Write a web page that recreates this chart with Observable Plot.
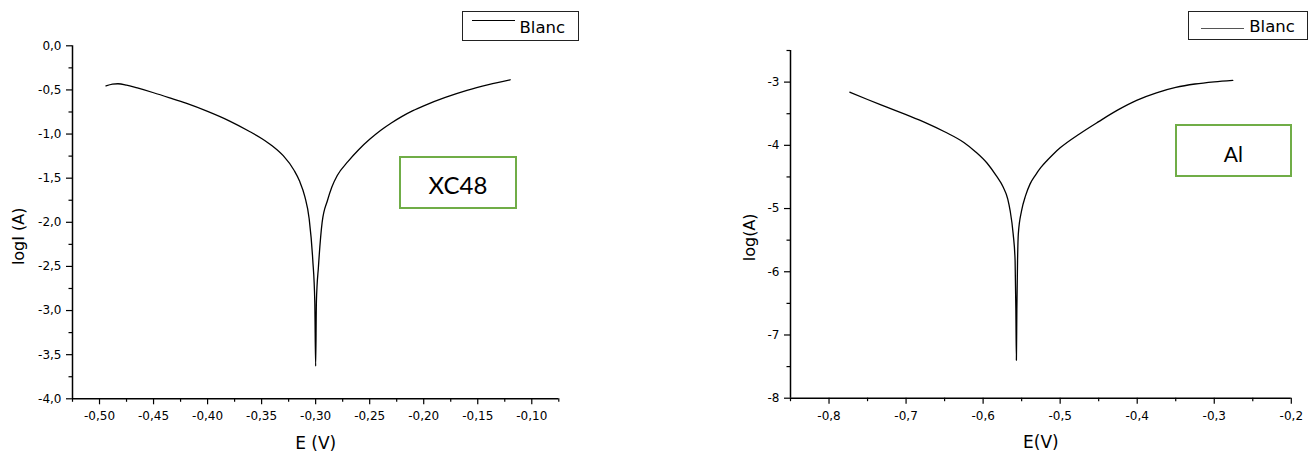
<!DOCTYPE html>
<html>
<head>
<meta charset="utf-8">
<script src="https://cdn.jsdelivr.net/npm/d3@7"></script>
<script src="https://cdn.jsdelivr.net/npm/@observablehq/plot@0.6"></script>
<style>
  html, body { margin: 0; padding: 0; background: #fff; }
  #root { position: relative; width: 1315px; height: 455px; overflow: hidden; background: #fff; }
  #root svg { position: absolute; top: 0; }
  .box { position: absolute; box-sizing: border-box; }
  .legend { border: 1px solid #222; background: #fff; }
  .lline { position: absolute; height: 0; }
  .ltext { position: absolute; font-family: "DejaVu Sans", sans-serif; font-size: 16.5px; line-height: 16.5px; color: #000; white-space: nowrap; }
  .tag { border: 2.5px solid #70AD47; background: #fff; }
  .tagtext { position: absolute; font-family: Lato, "Open Sans", sans-serif; color: #000; text-align: center; white-space: nowrap; }
</style>
</head>
<body>
<div id="root"></div>
<script>
// ---------- Data: XC48 (left panel) ----------
const xc48E = [-0.494, -0.488, -0.483, -0.475, -0.465, -0.45, -0.435, -0.42, -0.40, -0.38,
  -0.362, -0.35, -0.34, -0.33, -0.32, -0.315, -0.31, -0.306, -0.3027, -0.3008,
  -0.3000, -0.2993, -0.2974, -0.294, -0.289, -0.285, -0.28, -0.27, -0.26, -0.25,
  -0.24, -0.23, -0.22, -0.21, -0.20, -0.18, -0.16, -0.14, -0.12];
const xc48LogI = [-0.455, -0.435, -0.43, -0.445, -0.478, -0.532, -0.59, -0.65, -0.743, -0.85,
  -0.965, -1.05, -1.135, -1.245, -1.41, -1.53, -1.71, -1.96, -2.42, -2.9,
  -3.63, -2.9, -2.5, -2.0, -1.75, -1.6, -1.47, -1.31, -1.175, -1.06,
  -0.96, -0.875, -0.80, -0.735, -0.68, -0.585, -0.505, -0.44, -0.385];

// ---------- Data: Al (right panel) ----------
const alE = [-0.773, -0.75, -0.725, -0.7, -0.675, -0.65, -0.625, -0.61, -0.595, -0.583,
  -0.574, -0.568, -0.565, -0.561, -0.5585, -0.5575, -0.5568, -0.5562, -0.5553, -0.5543,
  -0.55, -0.545, -0.539, -0.532, -0.525, -0.517, -0.509, -0.5, -0.475, -0.45,
  -0.425, -0.4, -0.375, -0.35, -0.325, -0.3, -0.276];
const alLogA = [-3.16, -3.275, -3.395, -3.515, -3.64, -3.785, -3.955, -4.1, -4.28, -4.48,
  -4.66, -4.85, -5.03, -5.4, -5.82, -6.6, -7.4, -6.6, -5.82, -5.4,
  -5.03, -4.8, -4.61, -4.47, -4.35, -4.24, -4.14, -4.04, -3.82, -3.625,
  -3.44, -3.285, -3.17, -3.085, -3.03, -2.995, -2.972];

// ---------- Axes / ticks ----------
const xDomainL = [-0.525, -0.075];
const yDomainL = [-4, 0];
const xMajorL = [-0.50, -0.45, -0.40, -0.35, -0.30, -0.25, -0.20, -0.15, -0.10];
const xMinorL = [-0.525, -0.475, -0.425, -0.375, -0.325, -0.275, -0.225, -0.175, -0.125, -0.075];
const yMajorL = [-4.0, -3.5, -3.0, -2.5, -2.0, -1.5, -1.0, -0.5, 0.0];
const yMinorL = [-3.75, -3.25, -2.75, -2.25, -1.75, -1.25, -0.75, -0.25];

const xDomainR = [-0.85, -0.2];
const yDomainR = [-8, -2.5];
const xMajorR = [-0.8, -0.7, -0.6, -0.5, -0.4, -0.3, -0.2];
const xMinorR = [-0.85, -0.75, -0.65, -0.55, -0.45, -0.35, -0.25];
const yMajorR = [-8, -7, -6, -5, -4, -3];
const yMinorR = [-7.5, -6.5, -5.5, -4.5, -3.5, -2.5];

// ---------- Texts ----------
const labelsL = {x: "E (V)", y: "logI (A)", tag: "XC48"};
const labelsR = {x: "E(V)", y: "log(A)", tag: "Al"};
const legendName = "Blanc";

const comma = (digits) => (d) => (Math.abs(d) < 1e-9 ? 0 : d).toFixed(digits).replace(".", ",");
const plain = (d) => String(d);

function panel({E, V, xDomain, yDomain, xMajor, xMinor, yMajor, yMinor, fx, fy, labels,
                width, margins, ylabDx, ylabDy, xlabDy}) {
  const rows = E.map((e, i) => ({E: e, V: V[i]}));
  return Plot.plot({
    width, height: 455,
    marginLeft: margins[0], marginRight: margins[1], marginTop: margins[2], marginBottom: margins[3],
    style: {fontFamily: "DejaVu Sans, sans-serif", fontSize: "12px", color: "#000", background: "transparent", overflow: "visible"},
    x: {domain: xDomain},
    y: {domain: yDomain},
    marks: [
      Plot.axisX(xMajor, {tickSize: 6, tickPadding: 7, tickFormat: fx, label: null, fontSize: 12, strokeWidth: 1.2}),
      Plot.axisX(xMinor, {tickSize: 3.5, tickFormat: () => "", label: null, strokeWidth: 1.2}),
      Plot.axisY(yMajor, {tickSize: 6, tickPadding: 5, tickFormat: fy, label: null, fontSize: 12, strokeWidth: 1.2}),
      Plot.axisY(yMinor, {tickSize: 3.5, tickFormat: () => "", label: null, strokeWidth: 1.2}),
      Plot.ruleX([xDomain[0]], {stroke: "#000", strokeWidth: 1.5}),
      Plot.ruleY([yDomain[0]], {stroke: "#000", strokeWidth: 1.5}),
      Plot.line(rows, {x: "E", y: "V", stroke: "#000", strokeWidth: 1.3, curve: "monotone-x"}),
      Plot.text([labels.y], {frameAnchor: "left", textAnchor: "middle", lineAnchor: "middle", dx: ylabDx, dy: ylabDy, rotate: -90, fontSize: 16, fill: "#000"}),
      Plot.text([labels.x], {frameAnchor: "bottom", dy: xlabDy, fontSize: 17, fill: "#000"})
    ]
  });
}

const root = document.getElementById("root");

const left = panel({E: xc48E, V: xc48LogI, xDomain: xDomainL, yDomain: yDomainL,
  xMajor: xMajorL, xMinor: xMinorL, yMajor: yMajorL, yMinor: yMinorL,
  fx: comma(2), fy: comma(1), labels: labelsL, width: 640,
  margins: [72, 81.7, 45.3, 56.7], ylabDx: -54, ylabDy: 14, xlabDy: 50});
left.style.left = "0px";
root.appendChild(left);

const right = panel({E: alE, V: alLogA, xDomain: xDomainR, yDomain: yDomainR,
  xMajor: xMajorR, xMinor: xMinorR, yMajor: yMajorR, yMinor: yMinorR,
  fx: comma(1), fy: plain, labels: labelsR, width: 655,
  margins: [130, 24.2, 50, 57.3], ylabDx: -41, ylabDy: 13, xlabDy: 50});
right.style.left = "660px";
root.appendChild(right);

// ---------- Legends and tags (HTML overlays) ----------
function addDiv(cls, css, text) {
  const d = document.createElement("div");
  d.className = cls;
  Object.assign(d.style, css);
  if (text != null) d.textContent = text;
  root.appendChild(d);
  return d;
}
// left legend
addDiv("box legend", {left: "462px", top: "11px", width: "117px", height: "30px"});
addDiv("lline", {left: "471.7px", top: "20.2px", width: "43.3px", borderTop: "1.2px solid #000"});
addDiv("ltext", {left: "519.5px", top: "20px"}, legendName);
// right legend
addDiv("box legend", {left: "1188.3px", top: "11px", width: "120px", height: "29px"});
addDiv("lline", {left: "1200.7px", top: "28.2px", width: "43.3px", borderTop: "1.2px solid #555"});
addDiv("ltext", {left: "1249.3px", top: "19.3px"}, legendName);
// tags
addDiv("box tag", {left: "399.3px", top: "156px", width: "117.4px", height: "53.3px"});
addDiv("tagtext", {left: "399.3px", top: "173px", width: "117.4px", fontSize: "24px", lineHeight: "24px"}, labelsL.tag);
addDiv("box tag", {left: "1175px", top: "124px", width: "116.7px", height: "53.3px"});
addDiv("tagtext", {left: "1175px", top: "143px", width: "116.7px", fontSize: "21px", lineHeight: "21px"}, labelsR.tag);
</script>
</body>
</html>
